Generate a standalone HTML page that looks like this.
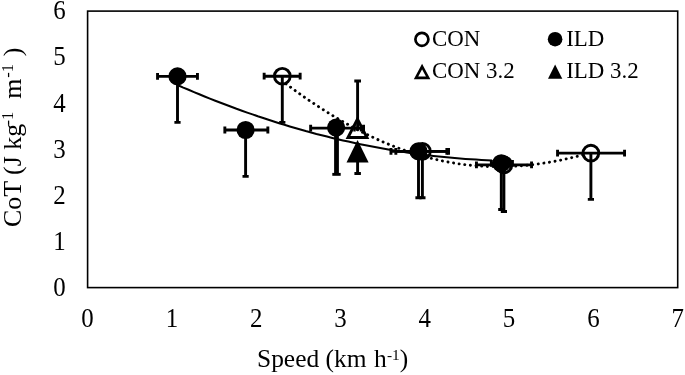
<!DOCTYPE html>
<html><head><meta charset="utf-8"><title>CoT vs Speed</title>
<style>
html,body{margin:0;padding:0;background:#fff;}
body{width:685px;height:375px;overflow:hidden;font-family:"Liberation Serif",serif;}
svg{display:block;will-change:transform;}
text{white-space:pre;}
</style></head><body>
<svg width="685" height="375" viewBox="0 0 685 375">
<rect width="685" height="375" fill="#fff"/>
<rect x="87.6" y="11.1" width="590.1" height="276.5" fill="none" stroke="#000" stroke-width="1.6"/>
<path d="M178.0,85.2 L183.3,87.6 L188.6,89.8 L194.0,92.1 L199.3,94.3 L204.6,96.5 L209.9,98.6 L215.3,100.7 L220.6,102.8 L225.9,104.8 L231.2,106.8 L236.5,108.8 L241.9,110.7 L247.2,112.6 L252.5,114.4 L257.8,116.3 L263.2,118.0 L268.5,119.8 L273.8,121.5 L279.1,123.2 L284.4,124.8 L289.8,126.4 L295.1,128.0 L300.4,129.5 L305.7,131.0 L311.1,132.4 L316.4,133.9 L321.7,135.2 L327.0,136.6 L332.3,137.9 L337.7,139.2 L343.0,140.4 L348.3,141.6 L353.6,142.8 L358.9,143.9 L364.3,145.0 L369.6,146.1 L374.9,147.1 L380.2,148.1 L385.6,149.0 L390.9,149.9 L396.2,150.8 L401.5,151.6 L406.8,152.5 L412.2,153.2 L417.5,154.0 L422.8,154.7 L428.1,155.3 L433.5,155.9 L438.8,156.5 L444.1,157.1 L449.4,157.6 L454.7,158.1 L460.1,158.5 L465.4,158.9 L470.7,159.3 L476.0,159.6 L481.4,159.9 L486.7,160.2 L492.0,160.4" fill="none" stroke="#000" stroke-width="2.05"/>
<path d="M283.5,82.0 L288.6,85.8 L293.8,89.6 L298.9,93.3 L304.0,96.9 L309.1,100.4 L314.3,103.9 L319.4,107.2 L324.5,110.5 L329.6,113.7 L334.8,116.9 L339.9,119.9 L345.0,122.9 L350.2,125.7 L355.3,128.5 L360.4,131.2 L365.5,133.8 L370.7,136.3 L375.8,138.6 L380.9,141.0 L386.0,143.2 L391.2,145.3 L396.3,147.3 L401.4,149.2 L406.6,151.0 L411.7,152.7 L416.8,154.3 L421.9,155.9 L427.1,157.3 L432.2,158.6 L437.3,159.8 L442.4,160.9 L447.6,161.9 L452.7,162.8 L457.8,163.7 L462.9,164.4 L468.1,165.0 L473.2,165.5 L478.3,165.9 L483.5,166.3 L488.6,166.5 L493.7,166.6 L498.8,166.7 L504.0,166.6 L509.1,166.5 L514.2,166.2 L519.3,165.9 L524.5,165.5 L529.6,165.0 L534.7,164.4 L539.9,163.7 L545.0,162.9 L550.1,162.1 L555.2,161.2 L560.4,160.2 L565.5,159.1 L570.6,157.9 L575.7,156.7 L580.9,155.4 L586.0,154.1" fill="none" stroke="#000" stroke-width="2.9" stroke-linecap="round" stroke-dasharray="0.1 5.57" stroke-dashoffset="2.6"/>
<path d="M264.15,76.2 H300.15 M264.15,72.80 V79.60 M300.15,72.80 V79.60" stroke="#000" stroke-width="2.9" fill="none"/>
<path d="M282.3,76.2 V122.35 M279.2,122.35 H285.40000000000003" stroke="#000" stroke-width="2.9" fill="none"/>
<path d="M395.85,151.4 H448.55 M395.85,148.00 V154.80 M448.55,148.00 V154.80" stroke="#000" stroke-width="2.9" fill="none"/>
<path d="M422.4,151.4 V197.75 M419.29999999999995,197.75 H425.5" stroke="#000" stroke-width="2.9" fill="none"/>
<path d="M476.45,164.9 H531.55 M476.45,161.50 V168.30 M531.55,161.50 V168.30" stroke="#000" stroke-width="2.9" fill="none"/>
<path d="M503.9,164.9 V211.45000000000002 M500.79999999999995,211.45000000000002 H507.0" stroke="#000" stroke-width="2.9" fill="none"/>
<path d="M557.55,153.1 H624.55 M557.55,149.70 V156.50 M624.55,149.70 V156.50" stroke="#000" stroke-width="2.9" fill="none"/>
<path d="M590.9,153.1 V199.35000000000002 M587.8,199.35000000000002 H594.0" stroke="#000" stroke-width="2.9" fill="none"/>
<path d="M157.55,76.4 H197.45 M157.55,73.00 V79.80 M197.45,73.00 V79.80" stroke="#000" stroke-width="2.9" fill="none"/>
<path d="M177.5,76.4 V122.35 M174.4,122.35 H180.6" stroke="#000" stroke-width="2.9" fill="none"/>
<path d="M224.85,130.0 H267.85 M224.85,126.60 V133.40 M267.85,126.60 V133.40" stroke="#000" stroke-width="2.9" fill="none"/>
<path d="M245.6,130.0 V176.35000000000002 M242.5,176.35000000000002 H248.7" stroke="#000" stroke-width="2.9" fill="none"/>
<path d="M310.65,128.1 H363.55 M310.65,124.70 V131.50 M363.55,124.70 V131.50" stroke="#000" stroke-width="2.9" fill="none"/>
<path d="M336.5,127.6 V175" stroke="#000" stroke-width="4.8" fill="none"/>
<path d="M332.3,174.35 H340.7" stroke="#000" stroke-width="2.9" fill="none"/>
<path d="M390.95,151.4 H446.85 M390.95,148.00 V154.80 M446.85,148.00 V154.80" stroke="#000" stroke-width="2.9" fill="none"/>
<path d="M418.5,151.4 V197.75 M415.4,197.75 H421.6" stroke="#000" stroke-width="2.9" fill="none"/>
<path d="M491.35,163.3 H512.45 M491.35,159.90 V166.70 M512.45,159.90 V166.70" stroke="#000" stroke-width="2.9" fill="none"/>
<path d="M501.3,163.3 V209.55 M498.2,209.55 H504.40000000000003" stroke="#000" stroke-width="2.9" fill="none"/>
<path d="M357.6,130.5 V81.0 M354.3,81.0 H361.0" stroke="#000" stroke-width="2.9" fill="none"/>
<path d="M357.6,152 V173.45 M354.4,173.45 H360.9" stroke="#000" stroke-width="2.9" fill="none"/>
<path d="M353.5,128.3 H362 M354.5,125 V131.6 M361,125 V131.6" stroke="#000" stroke-width="2.4" fill="none"/>
<circle cx="282.3" cy="76.2" r="7.85" fill="none" stroke="#000" stroke-width="2.9"/>
<circle cx="422.4" cy="151.4" r="7.85" fill="none" stroke="#000" stroke-width="2.9"/>
<circle cx="503.9" cy="164.9" r="7.85" fill="none" stroke="#000" stroke-width="2.9"/>
<circle cx="590.9" cy="153.1" r="7.85" fill="none" stroke="#000" stroke-width="2.9"/>
<circle cx="177.5" cy="76.4" r="9.1" fill="#000"/>
<circle cx="245.6" cy="130.0" r="9.1" fill="#000"/>
<circle cx="336.1" cy="127.6" r="9.1" fill="#000"/>
<circle cx="418.5" cy="151.4" r="9.1" fill="#000"/>
<circle cx="501.3" cy="163.3" r="9.1" fill="#000"/>
<path d="M357.45,119.15 L366.92,137.55 H347.98 Z" fill="none" stroke="#000" stroke-width="2.9" stroke-linejoin="miter"/>
<path d="M357.55,140.0 L368.6,162.4 H346.5 Z" fill="#000"/>
<circle cx="421.9" cy="39.3" r="6.5" fill="none" stroke="#000" stroke-width="2.7"/>
<path d="M422.1,66.6 L428.2,77.9 H416.0 Z" fill="none" stroke="#000" stroke-width="2.6"/>
<circle cx="555.1" cy="39.2" r="7.3" fill="#000"/>
<path d="M555.1,64.6 L562.3,78.8 H548.0 Z" fill="#000"/>
<text x="432.0" y="46.2" font-size="22.9" font-family="Liberation Serif, serif" fill="#000">CON</text>
<text x="432.0" y="77.9" font-size="22.9" font-family="Liberation Serif, serif" fill="#000">CON 3.2</text>
<text x="566.2" y="46.2" font-size="22.9" font-family="Liberation Serif, serif" fill="#000">ILD</text>
<text x="566.2" y="77.9" font-size="22.9" font-family="Liberation Serif, serif" fill="#000">ILD 3.2</text>
<text transform="translate(87.6,326.5) scale(0.93,1)" font-size="26.8" text-anchor="middle" font-family="Liberation Serif, serif" fill="#000">0</text>
<text transform="translate(171.9,326.5) scale(0.93,1)" font-size="26.8" text-anchor="middle" font-family="Liberation Serif, serif" fill="#000">1</text>
<text transform="translate(256.2,326.5) scale(0.93,1)" font-size="26.8" text-anchor="middle" font-family="Liberation Serif, serif" fill="#000">2</text>
<text transform="translate(340.5,326.5) scale(0.93,1)" font-size="26.8" text-anchor="middle" font-family="Liberation Serif, serif" fill="#000">3</text>
<text transform="translate(424.8,326.5) scale(0.93,1)" font-size="26.8" text-anchor="middle" font-family="Liberation Serif, serif" fill="#000">4</text>
<text transform="translate(509.1,326.5) scale(0.93,1)" font-size="26.8" text-anchor="middle" font-family="Liberation Serif, serif" fill="#000">5</text>
<text transform="translate(593.4,326.5) scale(0.93,1)" font-size="26.8" text-anchor="middle" font-family="Liberation Serif, serif" fill="#000">6</text>
<text transform="translate(677.7,326.5) scale(0.93,1)" font-size="26.8" text-anchor="middle" font-family="Liberation Serif, serif" fill="#000">7</text>
<text transform="translate(65.6,295.8) scale(0.93,1)" font-size="26.8" text-anchor="end" font-family="Liberation Serif, serif" fill="#000">0</text>
<text transform="translate(65.6,249.7) scale(0.93,1)" font-size="26.8" text-anchor="end" font-family="Liberation Serif, serif" fill="#000">1</text>
<text transform="translate(65.6,203.6) scale(0.93,1)" font-size="26.8" text-anchor="end" font-family="Liberation Serif, serif" fill="#000">2</text>
<text transform="translate(65.6,157.6) scale(0.93,1)" font-size="26.8" text-anchor="end" font-family="Liberation Serif, serif" fill="#000">3</text>
<text transform="translate(65.6,111.5) scale(0.93,1)" font-size="26.8" text-anchor="end" font-family="Liberation Serif, serif" fill="#000">4</text>
<text transform="translate(65.6,65.4) scale(0.93,1)" font-size="26.8" text-anchor="end" font-family="Liberation Serif, serif" fill="#000">5</text>
<text transform="translate(65.6,19.3) scale(0.93,1)" font-size="26.8" text-anchor="end" font-family="Liberation Serif, serif" fill="#000">6</text>
<text transform="translate(257.0,367.1) scale(0.99,1)" font-size="25.7" font-family="Liberation Serif, serif" fill="#000">Speed (km<tspan dx="1.1" xml:space="preserve"> h</tspan><tspan font-size="15.5" dy="-7.1" dx="0.3">-1</tspan><tspan dy="7.1">)</tspan></text>
<text transform="translate(21.1,227.0) rotate(-90) scale(0.99,1)" font-size="26.2" font-family="Liberation Serif, serif" fill="#000">CoT (J kg<tspan font-size="16.7" dy="-8.0" dx="-1.7">-1</tspan><tspan dy="8.0" xml:space="preserve">  m</tspan><tspan font-size="16.7" dy="-8.0" dx="0.8">-1</tspan><tspan dy="8.0" dx="1.2" xml:space="preserve"> )</tspan></text>
</svg>
</body></html>
